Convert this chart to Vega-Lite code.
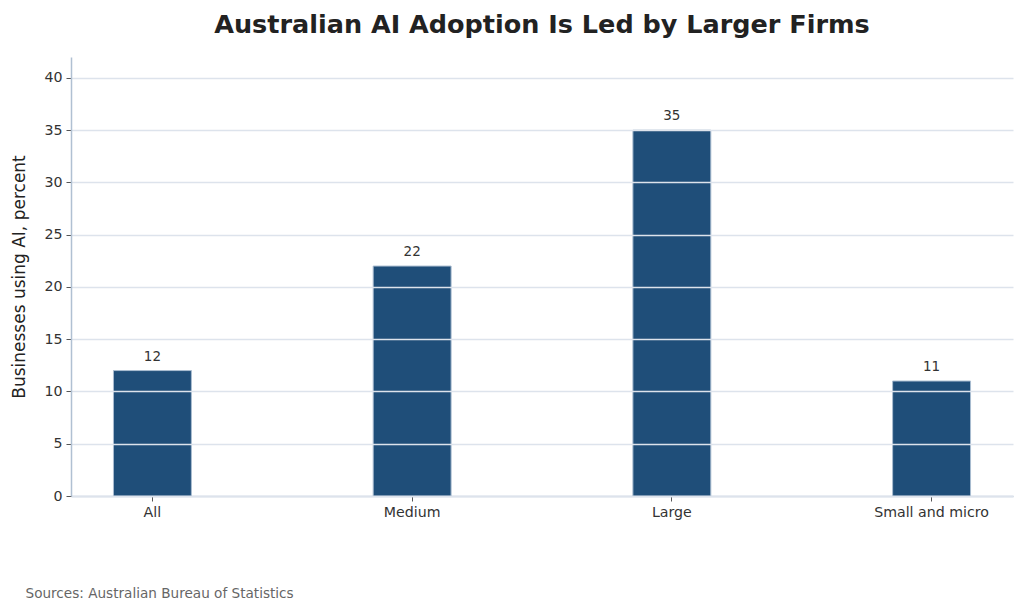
{
  "$schema": "https://vega.github.io/schema/vega-lite/v6.json",
  "width": 942,
  "height": 439,
  "autosize": "none",
  "padding": {"left": 71, "top": 57, "right": 11, "bottom": 115},
  "background": "white",
  "config": {
    "font": "DejaVu Sans",
    "view": {"stroke": null}
  },
  "title": {
    "text": "Australian AI Adoption Is Led by Larger Firms",
    "fontSize": 25.5,
    "fontWeight": "bold",
    "color": "#222222",
    "anchor": "middle",
    "offset": 19
  },
  "data": {
    "values": [
      {"category": "All", "value": 12},
      {"category": "Medium", "value": 22},
      {"category": "Large", "value": 35},
      {"category": "Small and micro", "value": 11}
    ]
  },
  "layer": [
    {
      "mark": {"type": "bar", "color": "#1f4e79", "stroke": "#a9bcd0", "strokeWidth": 1},
      "encoding": {
        "x": {
          "field": "category",
          "type": "nominal",
          "sort": null,
          "scale": {"paddingInner": 0.7, "paddingOuter": 0.1635},
          "axis": {
            "title": "Sources: Australian Bureau of Statistics",
            "titleFontSize": 13.6,
            "titleFontWeight": "normal",
            "titleColor": "#666666",
            "titleAnchor": "start",
            "titleAlign": "left",
            "titleBaseline": "alphabetic",
            "titleX": -46,
            "titleY": 101,
            "labelAngle": 0,
            "labelFontSize": 14.2,
            "labelColor": "#333333",
            "labelPadding": 4,
            "tickColor": "#555555",
            "tickSize": 5,
            "domainColor": "#b0c0d2",
            "domainWidth": 1.5,
            "grid": false
          }
        },
        "y": {
          "field": "value",
          "type": "quantitative",
          "scale": {"domain": [0, 42], "nice": false},
          "axis": {
            "title": "Businesses using AI, percent",
            "titleFontSize": 17,
            "titleFontWeight": "normal",
            "titleColor": "#222222",
            "titlePadding": 15,
            "values": [0, 5, 10, 15, 20, 25, 30, 35, 40],
            "labelFontSize": 14.2,
            "labelColor": "#333333",
            "labelPadding": 4,
            "tickColor": "#555555",
            "tickSize": 5,
            "domainColor": "#b0c0d2",
            "domainWidth": 1.5,
            "gridColor": "#dde3ec",
            "gridWidth": 1.5,
            "zindex": 1
          }
        }
      }
    },
    {
      "mark": {"type": "text", "dy": -14, "fontSize": 13.5, "color": "#333333"},
      "encoding": {
        "x": {"field": "category", "type": "nominal", "sort": null},
        "y": {"field": "value", "type": "quantitative"},
        "text": {"field": "value", "type": "quantitative"}
      }
    }
  ]
}
